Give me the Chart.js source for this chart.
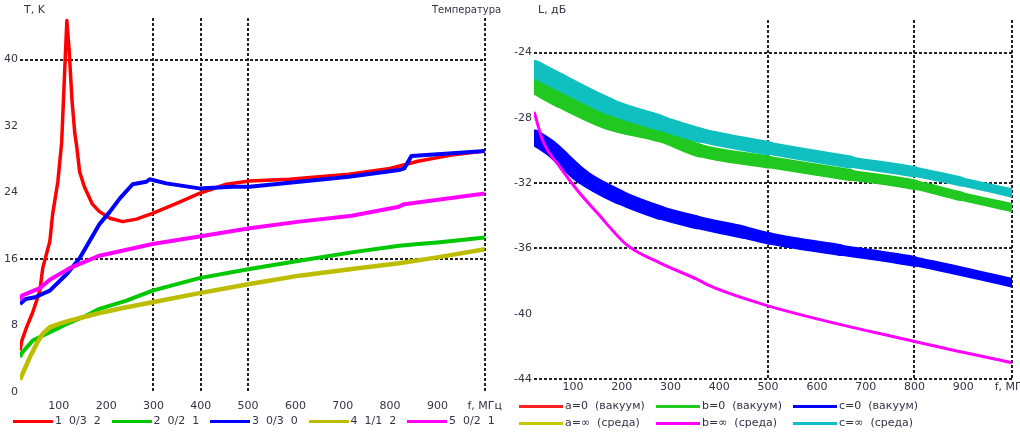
<!DOCTYPE html>
<html><head><meta charset="utf-8">
<script src="https://cdn.jsdelivr.net/npm/chart.js@4/dist/chart.umd.min.js"></script>
<style>
html,body{margin:0;padding:0;background:#fff;}
body{width:1020px;height:432px;overflow:hidden;position:relative;font-family:"DejaVu Sans",sans-serif;}
.abs{position:absolute;}
.lbl{position:absolute;font-size:11px;color:#334;white-space:pre;line-height:12px;}
.ln{position:absolute;height:3px;}
</style></head>
<body>
<canvas id="cl" class="abs" width="510" height="420" style="left:0;top:0"></canvas>
<canvas id="cr" class="abs" width="535" height="400" style="left:505px;top:0"></canvas>
<div class="lbl" style="left:24px;top:4px">T, K</div>
<div class="lbl" style="left:432px;top:4px;font-size:10px">Температура</div>
<div class="lbl" style="left:538px;top:4px">L, дБ</div>
<div id="legL"></div>
<div id="legR"></div>
<script>
// ---------- LEFT PANEL DATA ----------
const leftXTicks = [100,200,300,400,500,600,700,800,900,1000];
const leftYTicks = [0,8,16,24,32,40];
const leftXLabelEnd = 'f, МГц';
const leftGridX = [300,400,500,1000];
const leftGridY = [16,40];
const leftNames = ['1  0/3  2','2  0/2  1','3  0/3  0','4  1/1  2','5  0/2  1'];
const leftColors = ['#ff0000','#00c800','#0000ff','#bdbd00','#ff00ff'];

const redX = [18,22,32,45,60,66,81,87,98,106,112,117,122,128,134,138,144,154,171,186,208,235,264,298,349,397,454,503,587,713,800,861,930,1000];
const redY = [5.0,6.2,7.8,9.6,12.2,14.9,18.1,21.4,25.3,30.0,38.0,44.7,41.0,35.0,31.0,29.5,26.5,24.7,22.6,21.7,20.9,20.5,20.8,21.5,22.7,23.9,25.0,25.4,25.6,26.2,26.9,27.8,28.5,29.0];
const greenX = [18,22,45,81,117,151,186,243,298,397,503,608,719,819,860,900,1004];
const greenY = [4.2,4.7,6.2,7.2,8.2,9.0,10.0,11.0,12.2,13.7,14.8,15.8,16.8,17.6,17.8,18.0,18.6];
const blueX = [18,30,50,81,117,144,186,208,229,256,285,292,327,397,467,503,608,713,819,830,845,924,1004];
const blueY = [10.6,11.2,11.4,12.2,14.2,16.1,20.2,21.7,23.3,25.0,25.3,25.6,25.1,24.5,24.7,24.7,25.3,25.9,26.7,26.9,28.4,28.7,29.0];
const yellowX = [18,22,39,55,66,81,117,151,186,243,298,397,503,608,719,819,900,1004];
const yellowY = [1.5,2.0,4.2,6.0,7.0,7.8,8.5,9.0,9.5,10.2,10.8,11.9,13.0,14.0,14.8,15.5,16.2,17.2];
const magentaX = [18,22,60,81,123,186,298,397,503,608,719,819,830,1004];
const magentaY = [11.0,11.6,12.5,13.5,14.9,16.4,17.8,18.7,19.7,20.5,21.2,22.3,22.6,23.9];

// ---------- RIGHT PANEL DATA ----------
const rightXTicks = [100,200,300,400,500,600,700,800,900,1000];
const rightYTicks = [-24,-28,-32,-36,-40,-44];
const rightXLabelEnd = 'f, МГц';
const rightGridX = [500,800,1000];
const rightGridY = [-24,-32,-36,-44];
const rightNames = ['a=0  (вакуум)','b=0  (вакуум)','c=0  (вакуум)','a=∞  (среда)','b=∞  (среда)','c=∞  (среда)'];
const rightColors = ['#ff2020','#20c820','#0000ff','#c8c800','#ff00ff','#10c0c0'];

const rRedX = [], rRedY = [];
const rGreenX = [21,73,175,278,360,500,668,800,895,1000];
const rGreenY = [-26.05,-26.9,-28.3,-29.05,-30.0,-30.7,-31.5,-32.1,-32.8,-33.5];
const rBlueX = [21,52,119,195,278,354,449,504,648,800,1000];
const rBlueY = [-29.2,-29.8,-31.6,-32.85,-33.8,-34.4,-35.0,-35.4,-36.1,-36.8,-38.1];
const rYellowX = [], rYellowY = [];
const rMagentaX = [21,38,73,108,149,211,279,355,381,498,800,1000];
const rMagentaY = [-27.7,-29.4,-31.0,-32.4,-33.8,-35.8,-36.9,-37.9,-38.3,-39.5,-41.7,-43.0];
const rCyanX = [21,73,175,278,360,500,668,800,895,1000];
const rCyanY = [-25.0,-25.8,-27.3,-28.3,-29.05,-29.85,-30.7,-31.3,-31.9,-32.6];

function pts(xs, ys){ return xs.map((x,i)=>({x:x,y:ys[i]})); }

const FONT = {family:'DejaVu Sans', size:11};
const TICKCOL = '#334';
const GRIDCOL = '#222';

function gridCfg(list){
  return {
    drawTicks:false,
    lineWidth:2,
    color: ctx => (ctx.tick && list.includes(ctx.tick.value)) ? GRIDCOL : 'rgba(0,0,0,0)'
  };
}

// ---------- LEFT CHART ----------
const leftSeries = [[redX,redY],[greenX,greenY],[blueX,blueY],[yellowX,yellowY],[magentaX,magentaY]];
const leftWidths = [3.5,4,4,4.5,4];
new Chart(document.getElementById('cl'), {
  type:'line',
  data:{datasets: leftSeries.map((s,i)=>({
    label:leftNames[i], data:pts(s[0],s[1]), borderColor:leftColors[i],
    borderWidth:leftWidths[i], pointRadius:0, tension:0, fill:false,
    borderJoinStyle:'round', order:10-i, clip:0
  }))},
  options:{
    responsive:false, animation:false, devicePixelRatio:1,
    layout:{padding:{left:0,right:22,top:18,bottom:0}},
    plugins:{legend:{display:false},tooltip:{enabled:false}},
    scales:{
      x:{type:'linear', min:18, max:1000,
        afterBuildTicks: sc => { sc.ticks = leftXTicks.map(v=>({value:v})); },
        afterFit: sc => { sc.height = 28; },
        ticks:{font:FONT,color:TICKCOL,padding:8,maxRotation:0,autoSkip:false,
          callback: v => v===1000 ? leftXLabelEnd : String(v)},
        grid:gridCfg(leftGridX),
        border:{display:false,dash:[3,2]}
      },
      y:{type:'linear', min:0, max:45,
        afterBuildTicks: sc => { sc.ticks = leftYTicks.map(v=>({value:v})); },
        afterFit: sc => { sc.width = 20; },
        ticks:{font:FONT,color:TICKCOL,padding:2},
        grid:gridCfg(leftGridY),
        border:{display:false,dash:[3,2]}
      }
    }
  }
});

// ---------- RIGHT CHART ----------
const rightSeries = [[rRedX,rRedY],[rGreenX,rGreenY],[rBlueX,rBlueY],[rYellowX,rYellowY],[rMagentaX,rMagentaY],[rCyanX,rCyanY]];
const rightW0 = [16,16,16,3,3,18];
const rightW1 = [8,8,8,3,3,8];
new Chart(document.getElementById('cr'), {
  type:'line',
  data:{datasets: rightSeries.map((s,i)=>({
    label:rightNames[i], data:pts(s[0],s[1]), borderColor:rightColors[i],
    borderWidth:rightW0[i], pointRadius:0, fill:false, order:10-i, clip:0,
    tension:0.3, cubicInterpolationMode:'monotone',
    borderCapStyle:'round', borderJoinStyle:'round',
    segment:{borderWidth: ctx => rightW0[i] + (rightW1[i]-rightW0[i]) * (ctx.p0.parsed.x/1000)}
  }))},
  options:{
    responsive:false, animation:false, devicePixelRatio:1,
    layout:{padding:{left:0,right:28,top:20,bottom:0}},
    plugins:{legend:{display:false},tooltip:{enabled:false}},
    scales:{
      x:{type:'linear', min:20, max:1000,
        afterBuildTicks: sc => { sc.ticks = rightXTicks.map(v=>({value:v})); },
        afterFit: sc => { sc.height = 21; },
        ticks:{font:FONT,color:TICKCOL,padding:2,maxRotation:0,autoSkip:false,
          callback: v => v===1000 ? rightXLabelEnd : String(v)},
        grid:gridCfg(rightGridX),
        border:{display:false,dash:[3,2]}
      },
      y:{type:'linear', min:-44, max:-22,
        afterBuildTicks: sc => { sc.ticks = rightYTicks.map(v=>({value:v})); },
        afterFit: sc => { sc.width = 29; },
        ticks:{font:FONT,color:TICKCOL,padding:2},
        grid:gridCfg(rightGridY),
        border:{display:false,dash:[3,2]}
      }
    }
  }
});

// ---------- HTML LEGENDS ----------
function addItem(parent, x, y, w, color, text){
  const l = document.createElement('div'); l.className='ln';
  l.style.left=x+'px'; l.style.top=(y-1)+'px'; l.style.width=w+'px'; l.style.background=color;
  parent.appendChild(l);
  const t = document.createElement('div'); t.className='lbl';
  t.style.left=(x+w+2)+'px'; t.style.top=(y-6)+'px'; t.textContent=text;
  parent.appendChild(t);
}
const legL = document.getElementById('legL');
leftNames.forEach((n,i)=> addItem(legL, 13 + 98.5*i, 421, 40, leftColors[i], n));
const legR = document.getElementById('legR');
const rCols = [519,656,793], rRows = [406,423];
rightNames.forEach((n,i)=> addItem(legR, rCols[i%3], rRows[Math.floor(i/3)], 44, rightColors[i], n));
</script>
</body></html>
